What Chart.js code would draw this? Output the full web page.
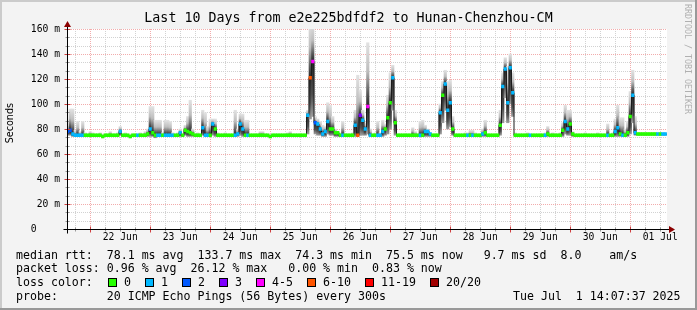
<!DOCTYPE html>
<html>
<head>
<meta charset="utf-8">
<script src="https://cdn.jsdelivr.net/npm/chart.js@4.4.0/dist/chart.umd.min.js"></script>
<style>
body { margin: 0; background: #fff; }
#wrap { position: relative; width: 697px; height: 310px; background: #f3f3f3; overflow: hidden;
        font-family: "DejaVu Sans Mono", monospace; color: #000; }
#wrap canvas { position: absolute; left: 0; top: 0; }
.t { position: absolute; white-space: pre; font-size: 11.6px; line-height: 14px; }
.box { position: absolute; width: 9px; height: 9px; box-sizing: border-box; border: 1px solid #000; top: 278px; }
.edge { position: absolute; }
</style>
</head>
<body>
<div id="wrap">
  <canvas id="grafico" width="697" height="310"></canvas>
  <div class="t" style="left:0;width:697px;top:10px;text-align:center;font-size:13.3px;line-height:16px">Last 10 Days from e2e225bdfdf2 to Hunan-Chenzhou-CM</div>
  <div class="t" style="left:683px;top:4px;font-size:8.3px;line-height:9px;writing-mode:vertical-rl;color:#b0b0b0">RRDTOOL / TOBI OETIKER</div>
  <div class="t" style="left:4px;top:103px;font-family:'DejaVu Sans';font-size:9.6px;line-height:12px;writing-mode:vertical-rl;transform:rotate(180deg)">Seconds</div>
  <div class="t" style="left:16px;top:248px">median rtt:  78.1 ms avg  133.7 ms max  74.3 ms min  75.5 ms now   9.7 ms sd  8.0    am/s</div>
  <div class="t" style="left:16px;top:261px">packet loss: 0.96 % avg  26.12 % max   0.00 % min  0.83 % now</div>
  <div class="t" style="left:16px;top:275px">loss color:</div>
  <div id="lossLegend"></div>
  <div class="t" style="left:16px;top:289px">probe:       20 ICMP Echo Pings (56 Bytes) every 300s</div>
  <div class="t" style="left:513px;top:289px">Tue Jul  1 14:07:37 2025</div>
  <div class="edge" style="left:0;top:0;width:697px;height:2px;background:#cbcbcb"></div>
  <div class="edge" style="left:0;top:0;width:2px;height:310px;background:#cbcbcb"></div>
  <div class="edge" style="left:695px;top:0;width:2px;height:310px;background:#999"></div>
  <div class="edge" style="left:0;top:308px;width:697px;height:2px;background:#999"></div>
</div>
<script>
// una barra por hora, desde 21 jun ~14:00 hasta 01 jul ~14:00 (hora 0 = 22 jun 00:00)
const primeiraHora = -9;

const mediana = [
  78,79,76,75,75,75,75,75,75,75,
  75,75,75,75,74,75,75,75,75,75,
  75,78,75,75,75,74,75,75,75,75,
  75,75,76,80,77,75,75,75,75,75,
  75,75,75,75,75,77,75,79,78,77,
  76,75,75,75,81,75,75,75,84,80,
  75,75,75,75,75,75,75,75,76,84,
  80,75,75,75,75,75,75,75,75,75,
  75,74,75,75,75,75,75,75,75,75,
  75,75,75,75,75,75,91,121,134,85,
  84,80,76,78,86,80,80,77,77,75,
  75,75,75,75,75,83,75,91,87,80,
  98,75,75,75,75,75,78,80,89,101,
  121,85,75,75,75,75,75,75,75,75,
  75,75,75,78,78,76,75,75,75,93,
  107,116,95,101,80,75,75,75,75,75,
  75,75,75,75,75,75,76,77,75,75,
  75,75,75,83,114,128,101,129,109,75,
  75,75,75,75,75,75,75,75,75,75,
  75,75,76,75,75,75,75,75,79,86,
  80,84,76,75,75,75,75,75,75,75,
  75,75,75,75,75,75,75,75,75,78,
  81,76,75,75,77,90,107,77,76,76,
  76,76,76,76,76,76,76,76,76,76
];

// classe de perda: 0 = 0, 1 = 1, 2 = 2, 3 = 3, 4 = 4-5, 5 = 6-10, 6 = 11-19, 7 = 20/20
const perda = [
  2,2,1,1,1,1,1,0,0,0,
  0,0,0,0,0,0,0,0,0,0,
  0,1,0,0,0,0,0,0,1,0,
  0,0,0,1,0,0,1,1,0,1,
  1,1,1,0,0,1,0,0,0,0,
  0,0,0,0,1,1,1,0,1,0,
  0,0,0,0,0,0,0,1,1,1,
  1,0,1,0,0,0,0,0,0,0,
  0,0,0,0,0,0,0,0,0,0,
  0,0,0,0,0,0,1,5,4,2,
  1,1,1,1,1,0,0,0,0,0,
  1,0,0,0,0,1,5,3,1,1,
  4,1,0,0,1,1,1,0,0,0,
  1,0,0,0,0,0,0,0,0,0,
  0,1,0,1,1,1,0,0,0,1,
  0,1,1,1,0,0,0,0,0,0,
  1,0,1,0,0,0,1,0,0,0,
  0,0,0,0,1,1,1,1,1,0,
  0,0,0,0,0,1,0,0,0,0,
  0,1,0,0,0,0,0,0,0,1,
  1,0,0,0,0,0,0,0,0,0,
  0,0,0,0,0,0,1,0,0,1,
  1,0,1,0,0,0,1,1,0,0,
  0,0,0,0,0,0,1,0,1,1
];

const fumacaMin = [
  75,75,74,74,74,74,74,74,74,74,
  74,74,74,74,73,74,74,74,74,74,
  74,75,74,74,74,73,74,74,74,74,
  74,74,74,74,74,73,74,74,74,74,
  74,74,74,74,74,74,74,75,74,74,
  74,74,74,74,75,74,74,74,75,74,
  74,74,74,74,74,74,74,74,74,75,
  74,74,74,74,74,74,74,74,74,74,
  74,73,74,74,74,74,74,74,74,74,
  74,74,74,74,74,74,76,88,90,76,
  75,75,74,74,76,75,75,74,74,74,
  74,74,74,74,74,74,74,75,75,75,
  76,74,74,74,74,74,74,75,76,80,
  95,75,74,74,74,74,74,74,74,74,
  74,74,74,74,74,74,74,74,74,76,
  85,95,80,82,75,74,74,74,74,74,
  74,74,74,74,74,74,74,74,74,74,
  74,74,74,75,85,105,85,100,90,74,
  74,74,74,74,74,74,74,74,74,74,
  74,74,74,74,74,74,74,74,74,76,
  75,75,74,74,74,74,74,74,74,74,
  74,74,74,74,74,74,74,74,74,74,
  74,74,74,74,74,76,85,75,75,75,
  75,75,75,75,75,75,75,75,75,75
];

const fumacaMax = [
  82,96,96,79,86,78,86,77,76,78,
  77,76,76,77,76,76,76,78,76,76,
  77,82,76,77,76,76,76,76,76,77,
  76,78,80,98,98,87,87,87,77,87,
  87,86,77,76,77,80,76,83,90,103,
  80,76,77,76,95,93,82,88,88,88,
  77,76,76,77,76,76,76,95,80,92,
  92,87,87,76,76,76,76,78,78,76,
  76,76,76,76,76,76,76,76,77,78,
  76,76,76,76,76,76,95,165,165,90,
  88,86,83,82,101,99,90,80,78,77,
  86,76,76,76,77,95,123,111,95,85,
  149,80,76,77,86,77,87,84,107,125,
  131,95,76,76,76,76,76,76,81,78,
  76,86,87,83,80,77,76,76,76,100,
  118,127,118,119,90,76,76,76,76,77,
  77,79,79,77,76,76,80,87,76,76,
  76,76,76,95,125,137,130,140,125,77,
  76,76,76,76,77,76,76,76,76,76,
  76,77,82,76,77,76,76,77,85,99,
  95,95,78,76,76,76,76,77,76,76,
  76,76,77,76,76,76,84,76,77,88,
  99,89,89,80,86,110,127,90,77,77,
  77,77,77,77,77,77,77,77,77,77
];

const diasHoras = [12, 36, 60, 84, 108, 132, 156, 180, 204, 228];
const diasRotulos = ["22 Jun", "23 Jun", "24 Jun", "25 Jun", "26 Jun", "27 Jun", "28 Jun", "29 Jun", "30 Jun", "01 Jul"];
const valoresY = [0, 20, 40, 60, 80, 100, 120, 140, 160];

const coresPerda = ["#26ff00", "#00b8ff", "#0059ff", "#7e00ff", "#ff00ff", "#ff5500", "#ff0000", "#a10000"];
const rotulosPerda = ["0", "1", "2", "3", "4-5", "6-10", "11-19", "20/20"];
const legendaX = [108, 145, 182, 219, 256, 307, 365, 430];

// legenda das cores de perda
let htmlLegenda = "";
rotulosPerda.forEach((r, k) => {
  htmlLegenda += '<div class="box" style="left:' + legendaX[k] + 'px;background:' + coresPerda[k] + '"></div>';
  htmlLegenda += '<div class="t" style="left:' + (legendaX[k] + 16) + 'px;top:275px">' + r + '</div>';
});
document.getElementById("lossLegend").innerHTML = htmlLegenda;

const horas = mediana.map((v, i) => primeiraHora + i);

function corFumaca(ctx) {
  const chart = ctx.chart;
  if (ctx.dataIndex === undefined || !chart.chartArea) return "#999";
  const i = ctx.dataIndex;
  const y = chart.scales.y;
  const topo = y.getPixelForValue(fumacaMax[i]);
  const base = y.getPixelForValue(fumacaMin[i]);
  const meio = y.getPixelForValue(mediana[i]);
  if (base - topo < 2) return "#c8c8c8";
  let s = (meio - topo) / (base - topo);
  s = Math.min(0.98, Math.max(0.02, s));
  const g = chart.ctx.createLinearGradient(0, topo, 0, base);
  g.addColorStop(0, "#e2e2e2");
  g.addColorStop(s * 0.45, "#bdbdbd");
  g.addColorStop(s * 0.8, "#585858");
  g.addColorStop(s, "#262626");
  g.addColorStop(s + (1 - s) * 0.6, "#4c4c4c");
  g.addColorStop(1, "#9c9c9c");
  return g;
}

function linha(ctx, x1, y1, x2, y2, cor, tracejado) {
  ctx.beginPath();
  ctx.strokeStyle = cor;
  ctx.lineWidth = 1;
  ctx.setLineDash(tracejado || []);
  ctx.moveTo(x1, y1);
  ctx.lineTo(x2, y2);
  ctx.stroke();
}

const molduraRrd = {
  id: "molduraRrd",
  beforeDatasetsDraw(chart) {
    const { ctx, chartArea: a, scales } = chart;
    const xs = scales.x, ys = scales.y;
    ctx.save();
    ctx.fillStyle = "#ffffff";
    ctx.fillRect(a.left, a.top, a.right - a.left, a.bottom - a.top);
    const cinza = "#d2d2d2", rosa = "#f2acac";
    // grade secundaria (6 h / 6.67 ms)
    for (let h = -6; h <= 228; h += 6) {
      if (h % 24 === 0) continue;
      const px = Math.round(xs.getPixelForValue(h)) + 0.5;
      linha(ctx, px, a.top, px, a.bottom, cinza, [1, 1]);
    }
    for (let k = 1; k < 24; k++) {
      if (k % 3 === 0) continue;
      const py = Math.round(ys.getPixelForValue(k * 20 / 3)) + 0.5;
      linha(ctx, a.left, py, a.right, py, cinza, [1, 1]);
    }
    // grade principal (meia-noite / 20 ms)
    for (let h = 0; h <= 216; h += 24) {
      const px = Math.round(xs.getPixelForValue(h)) + 0.5;
      linha(ctx, px, a.top, px, a.bottom, rosa, [1, 1]);
    }
    valoresY.forEach(v => {
      if (v === 0) return;
      const py = Math.round(ys.getPixelForValue(v)) + 0.5;
      linha(ctx, a.left, py, a.right, py, rosa, [1, 1]);
    });
    ctx.restore();
  },
  afterDatasetsDraw(chart) {
    const { ctx, chartArea: a, scales } = chart;
    const xs = scales.x, ys = scales.y;
    ctx.save();
    const y0 = Math.round(ys.getPixelForValue(0)) + 0.5;
    const x0 = Math.round(a.left) + 0.5;
    // marcas dos eixos
    for (let h = -6; h <= 228; h += 6) {
      const px = Math.round(xs.getPixelForValue(h)) + 0.5;
      if (h % 24 === 0) linha(ctx, px, y0 - 3, px, y0 + 3, "#d04040");
      else linha(ctx, px, y0 - 2, px, y0 + 2, "#999999");
    }
    for (let k = 1; k <= 24; k++) {
      const py = Math.round(ys.getPixelForValue(k * 20 / 3)) + 0.5;
      if (k % 3 === 0) linha(ctx, x0 - 3, py, x0 + 3, py, "#d04040");
      else linha(ctx, x0 - 2, py, x0 + 2, py, "#999999");
    }
    linha(ctx, x0 - 4, y0, a.right + 5, y0, "#000000");
    linha(ctx, x0, y0 + 4, x0, a.top - 5, "#000000");
    // setas
    ctx.fillStyle = "#8b0000";
    ctx.beginPath();
    ctx.moveTo(a.right + 8, y0);
    ctx.lineTo(a.right + 2, y0 - 3.5);
    ctx.lineTo(a.right + 2, y0 + 3.5);
    ctx.closePath();
    ctx.fill();
    ctx.beginPath();
    ctx.moveTo(x0, a.top - 8);
    ctx.lineTo(x0 - 3.5, a.top - 2);
    ctx.lineTo(x0 + 3.5, a.top - 2);
    ctx.closePath();
    ctx.fill();
    ctx.restore();
  }
};

const fonteEixo = { family: "'DejaVu Sans Mono'", size: 9.7 };

new Chart(document.getElementById("grafico"), {
  data: {
    datasets: [
      {
        type: "bar",
        label: "perda",
        data: horas.map((h, i) => ({ x: h, y: [mediana[i] - 1.15, mediana[i] + 1.15] })),
        backgroundColor: ctx => coresPerda[perda[ctx.dataIndex]] || "#26ff00",
        grouped: false,
        barPercentage: 1,
        categoryPercentage: 1,
        order: 1
      },
      {
        type: "line",
        label: "mediana",
        data: horas.map((h, i) => ({ x: h, y: mediana[i] })),
        stepped: "middle",
        borderColor: "#1c1c1c",
        borderWidth: 1,
        pointRadius: 0,
        order: 2
      },
      {
        type: "bar",
        label: "fumaca",
        data: horas.map((h, i) => ({ x: h, y: [fumacaMin[i], fumacaMax[i]] })),
        backgroundColor: corFumaca,
        grouped: false,
        barPercentage: 1,
        categoryPercentage: 1,
        order: 3
      }
    ]
  },
  options: {
    responsive: false,
    animation: false,
    events: [],
    layout: { padding: { left: 0, top: 29, right: 30, bottom: 0 } },
    plugins: { legend: { display: false }, tooltip: { enabled: false } },
    scales: {
      x: {
        type: "linear",
        offset: false,
        min: -9.3,
        max: 230.7,
        grid: { display: false, drawTicks: false, offset: false },
        border: { display: false },
        afterBuildTicks: s => { s.ticks = diasHoras.map(v => ({ value: v })); },
        afterFit: s => { s.height = 81; },
        ticks: {
          autoSkip: false,
          maxRotation: 0,
          padding: 3,
          color: "#000",
          font: fonteEixo,
          callback: v => diasRotulos[diasHoras.indexOf(v)]
        }
      },
      y: {
        type: "linear",
        min: 0,
        max: 160,
        grid: { display: false, drawTicks: false },
        border: { display: false },
        afterBuildTicks: s => { s.ticks = valoresY.map(v => ({ value: v })); },
        afterFit: s => { s.width = 67; },
        ticks: {
          padding: 7,
          color: "#000",
          font: fonteEixo,
          callback: v => (v === 0 ? "0    " : v + " m")
        }
      }
    }
  },
  plugins: [molduraRrd]
});
</script>
</body>
</html>
